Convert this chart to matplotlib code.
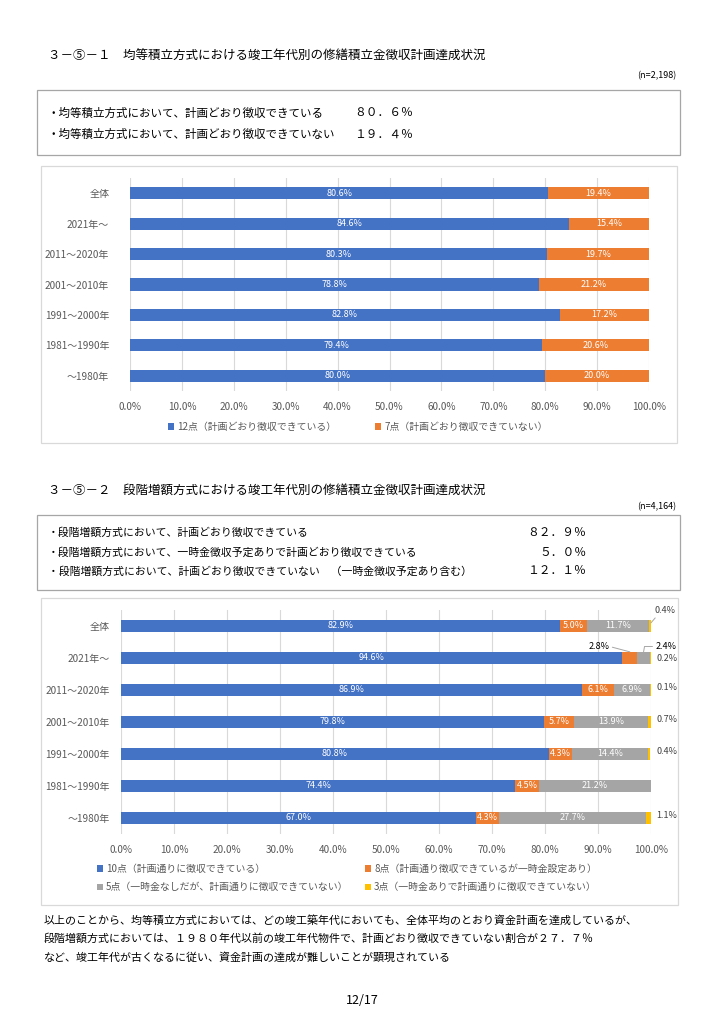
import matplotlib
matplotlib.use("Agg")
import matplotlib.pyplot as plt
from matplotlib.patches import Rectangle

plt.rcParams['font.family'] = ['Noto Sans CJK JP', 'DejaVu Sans']

# ---------------- data ----------------
categories = ["全体", "2021年～", "2011～2020年", "2001～2010年",
              "1991～2000年", "1981～1990年", "～1980年"]
even_ok = [80.6, 84.6, 80.3, 78.8, 82.8, 79.4, 80.0]
even_ng = [19.4, 15.4, 19.7, 21.2, 17.2, 20.6, 20.0]
even_labels = ["12点（計画どおり徴収できている）", "7点（計画どおり徴収できていない）"]

step_10 = [82.9, 94.6, 86.9, 79.8, 80.8, 74.4, 67.0]
step_8 = [5.0, 2.8, 6.1, 5.7, 4.3, 4.5, 4.3]
step_5 = [11.7, 2.4, 6.9, 13.9, 14.4, 21.2, 27.7]
step_3 = [0.4, 0.2, 0.1, 0.7, 0.4, 0.0, 1.1]
step_labels = ["10点（計画通りに徴収できている）",
               "8点（計画通り徴収できているが一時金設定あり）",
               "5点（一時金なしだが、計画通りに徴収できていない）",
               "3点（一時金ありで計画通りに徴収できていない）"]

xticks = [0, 10, 20, 30, 40, 50, 60, 70, 80, 90, 100]
xtick_labels = [f"{v:.1f}%" for v in xticks]

BLUE, ORANGE, GREY, YELLOW = "#4472C4", "#ED7D31", "#A5A5A5", "#FFC000"
TXT = "#595959"

W, H = 724, 1024
fig = plt.figure(figsize=(W / 100, H / 100), dpi=100)
fig.patch.set_facecolor("white")


def fx(px):
    return px / W


def fy(py):
    return 1 - py / H


def box(x0, y0, x1, y1, ec):
    fig.patches.append(Rectangle((fx(x0), fy(y1)), fx(x1) - fx(x0), fy(y0) - fy(y1),
                                 transform=fig.transFigure, fill=False,
                                 edgecolor=ec, lw=0.9))


def axes_px(x0, y0, x1, y1):
    return fig.add_axes([fx(x0), fy(y1), fx(x1) - fx(x0), fy(y0) - fy(y1)])


def style_axes(ax, pad_y):
    ax.set_xlim(0, 100)
    ax.set_ylim(len(categories) - 0.5, -0.5)
    ax.set_xticks(xticks)
    ax.set_xticklabels(xtick_labels)
    ax.set_yticks(range(len(categories)))
    ax.set_yticklabels(categories)
    for s in ax.spines.values():
        s.set_visible(False)
    ax.tick_params(axis="both", length=0, labelsize=7.2, colors=TXT)
    ax.tick_params(axis="x", pad=8)
    ax.tick_params(axis="y", pad=pad_y)
    ax.grid(axis="x", color="#D9D9D9", lw=0.8)
    ax.set_axisbelow(True)


# ---------------- section 1 ----------------
fig.text(fx(48), fy(56), "３－⑤－１　均等積立方式における竣工年代別の修繕積立金徴収計画達成状況",
         fontsize=9, va="center", ha="left")
fig.text(fx(676), fy(76), "(n=2,198)", fontsize=6.5, va="center", ha="right")
box(37, 90, 680, 155, "#A6A6A6")
fig.text(fx(48), fy(113), "・均等積立方式において、計画どおり徴収できている", fontsize=8.3, va="center")
fig.text(fx(354), fy(113), "８０．６％", fontsize=8.5, va="center")
fig.text(fx(48), fy(134), "・均等積立方式において、計画どおり徴収できていない", fontsize=8.3, va="center")
fig.text(fx(354), fy(134), "１９．４％", fontsize=8.5, va="center")

box(41, 166, 677, 443, "#D9D9D9")
ax1 = axes_px(130, 178, 649, 391)
y = list(range(len(categories)))
b1 = ax1.barh(y, even_ok, height=0.4, color=BLUE, label=even_labels[0])
b2 = ax1.barh(y, even_ng, left=even_ok, height=0.4, color=ORANGE, label=even_labels[1])
style_axes(ax1, 15)
ax1.bar_label(b1, labels=[f"{v:.1f}%" for v in even_ok], label_type="center",
              color="white", fontsize=6.5)
ax1.bar_label(b2, labels=[f"{v:.1f}%" for v in even_ng], label_type="center",
              color="white", fontsize=6.5)
fig.legend(handles=[b1, b2], labels=even_labels, loc="center left",
           bbox_to_anchor=(fx(168), fy(427)), ncol=2, frameon=False,
           fontsize=7.1, labelcolor=TXT, handlelength=0.6, handleheight=0.6,
           handletextpad=0.3, columnspacing=4.0, borderpad=0, borderaxespad=0)

# ---------------- section 2 ----------------
fig.text(fx(48), fy(490), "３－⑤－２　段階増額方式における竣工年代別の修繕積立金徴収計画達成状況",
         fontsize=9, va="center", ha="left")
fig.text(fx(676), fy(507), "(n=4,164)", fontsize=6.5, va="center", ha="right")
box(37, 515, 680, 590, "#A6A6A6")
lines2 = ["・段階増額方式において、計画どおり徴収できている",
          "・段階増額方式において、一時金徴収予定ありで計画どおり徴収できている",
          "・段階増額方式において、計画どおり徴収できていない　（一時金徴収予定あり含む）"]
pcts2 = ["８２．９％", "５．０％", "１２．１％"]
for ly, t, p in zip([532, 552, 571], lines2, pcts2):
    fig.text(fx(48), fy(ly), t, fontsize=7.8, va="center")
    fig.text(fx(586), fy(ly), p, fontsize=8.5, va="center", ha="right")

box(41, 598, 678, 905, "#D9D9D9")
ax2 = axes_px(121, 610, 651, 834)
left8 = [a for a in step_10]
left5 = [a + b for a, b in zip(step_10, step_8)]
left3 = [a + b + c for a, b, c in zip(step_10, step_8, step_5)]
h2 = 0.385
c10 = ax2.barh(y, step_10, height=h2, color=BLUE, label=step_labels[0])
c8 = ax2.barh(y, step_8, left=left8, height=h2, color=ORANGE, label=step_labels[1])
c5 = ax2.barh(y, step_5, left=left5, height=h2, color=GREY, label=step_labels[2])
c3 = ax2.barh(y, step_3, left=left3, height=h2, color=YELLOW, label=step_labels[3])
style_axes(ax2, 8)
ax2.bar_label(c10, labels=[f"{v:.1f}%" for v in step_10], label_type="center",
              color="white", fontsize=6.5)
ax2.bar_label(c8, labels=["" if i == 1 else f"{v:.1f}%" for i, v in enumerate(step_8)],
              label_type="center", color="white", fontsize=6.5)
ax2.bar_label(c5, labels=["" if i == 1 else f"{v:.1f}%" for i, v in enumerate(step_5)],
              label_type="center", color="white", fontsize=6.5)

OUT = "#404040"
lead = dict(arrowstyle="-", color="#A6A6A6", lw=0.7, shrinkA=0, shrinkB=0)
# yellow (3点) labels outside to the right
for i, v in enumerate(step_3):
    if v <= 0:
        continue
    if i == 0:
        ax2.annotate(f"{v:.1f}%", xy=(left3[i] + v, -0.1), xytext=(100.6, -0.48),
                     fontsize=6.5, color=OUT, ha="left", va="center",
                     annotation_clip=False, arrowprops=dict(lead, relpos=(0.2, 0.1)))
    elif i == 1:
        ax2.text(101.0, 1.03, f"{v:.1f}%", fontsize=6.5, color=OUT, ha="left", va="center")
    else:
        ax2.text(101.0, i - 0.08, f"{v:.1f}%", fontsize=6.5, color=OUT, ha="left", va="center")
# 2021 small segments with leader lines
ax2.annotate(f"{step_8[1]:.1f}%", xy=(left8[1] + step_8[1] * 0.5, 1 - h2 / 2),
             xytext=(90.2, 0.64), fontsize=6.5, color="black", ha="center", va="center",
             annotation_clip=False, arrowprops=dict(lead, relpos=(1.0, 0.5)))
ax2.annotate(f"{step_5[1]:.1f}%", xy=(left5[1] + step_5[1] * 0.5, 1 - h2 / 2),
             xytext=(100.8, 0.64), fontsize=6.5, color="black", ha="left", va="center",
             annotation_clip=False,
             arrowprops=dict(lead, relpos=(0.0, 0.5), connectionstyle="angle,angleA=0,angleB=80,rad=0"))

fig.legend(handles=[c10, c5, c8, c3],
           labels=[step_labels[0], step_labels[2], step_labels[1], step_labels[3]],
           loc="upper left", bbox_to_anchor=(fx(97), fy(864)), ncol=2, frameon=False,
           fontsize=7.1, labelcolor=TXT, handlelength=0.6, handleheight=0.6,
           handletextpad=0.3, columnspacing=1.7, labelspacing=0.85,
           borderpad=0, borderaxespad=0)

# ---------------- conclusion ----------------
para = ["以上のことから、均等積立方式においては、どの竣工築年代においても、全体平均のとおり資金計画を達成しているが、",
        "段階増額方式においては、１９８０年代以前の竣工年代物件で、計画どおり徴収できていない割合が２７．７％",
        "など、竣工年代が古くなるに従い、資金計画の達成が難しいことが顕現されている"]
for ly, t in zip([920, 938, 957], para):
    fig.text(fx(44), fy(ly), t, fontsize=7.9, va="center")

fig.text(fx(362), fy(1000), "12/17", fontsize=9, va="center", ha="center")

fig.savefig("out.png", dpi=100)
